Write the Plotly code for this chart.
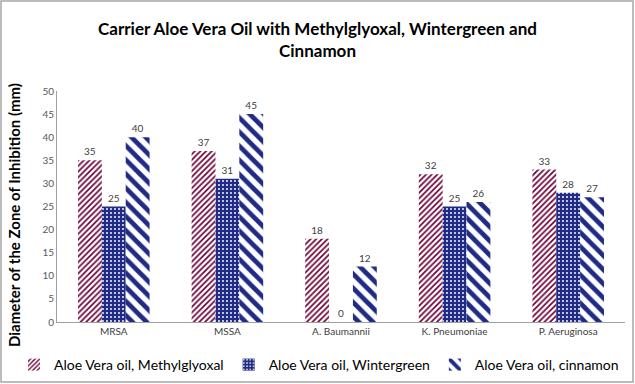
import plotly.graph_objects as go

categories = ["MRSA", "MSSA", "A. Baumannii", "K. Pneumoniae", "P. Aeruginosa"]
series_names = ["Aloe Vera oil, Methylglyoxal", "Aloe Vera oil, Wintergreen", "Aloe Vera oil, cinnamon"]
methylglyoxal = [35, 37, 18, 32, 33]
wintergreen = [25, 31, 0, 25, 28]
cinnamon = [40, 45, 12, 26, 27]
y_ticks = [0, 5, 10, 15, 20, 25, 30, 35, 40, 45, 50]

MAROON = "#6A0036"
NAVY = "#1F2B84"
FONT = "Lato, 'Liberation Sans', sans-serif"

W, H = 635, 384
ML, MR, MT, MB = 57, 10, 91, 62
PW, PH = W - ML - MR, H - MT - MB

fig = go.Figure()
fig.add_trace(go.Bar(
    name=series_names[0], x=categories, y=methylglyoxal,
    marker=dict(color="white", line=dict(width=0),
                pattern=dict(shape="/", fgcolor=MAROON, bgcolor="white", size=4,
                             solidity=0.42, fgopacity=1)),
    text=methylglyoxal, textposition="outside", cliponaxis=False,
))
fig.add_trace(go.Bar(
    name=series_names[1], x=categories, y=wintergreen,
    marker=dict(color=NAVY, line=dict(width=0),
                pattern=dict(shape=".", fgcolor="white", bgcolor=NAVY, size=4,
                             solidity=0.18, fgopacity=1)),
    text=wintergreen, textposition="outside", cliponaxis=False,
))
fig.add_trace(go.Bar(
    name=series_names[2], x=categories, y=cinnamon,
    marker=dict(color="white", line=dict(width=0),
                pattern=dict(shape="\\", fgcolor=NAVY, bgcolor="white", size=10,
                             solidity=0.48, fgopacity=1)),
    text=cinnamon, textposition="outside", cliponaxis=False,
))

fig.update_traces(textfont=dict(size=10, color="#404040", family=FONT))

fig.update_layout(
    width=W, height=H,
    margin=dict(l=ML, r=MR, t=MT, b=MB, autoexpand=False),
    paper_bgcolor="white", plot_bgcolor="white",
    barmode="group", bargap=0.37, bargroupgap=0.0,
    font=dict(family=FONT, color="#404040"),
    title=dict(
        text="<b>Carrier Aloe Vera Oil with Methylglyoxal, Wintergreen and<br>Cinnamon</b>",
        x=0.5, xanchor="center", xref="container", yref="container", y=1 - 35 / H, yanchor="top",
        font=dict(size=17, color="black", family=FONT),
    ),
    xaxis=dict(showline=True, linecolor="#A0A0A0", linewidth=1, ticks="",
               tickfont=dict(size=10, color="#404040"), showgrid=False),
    yaxis=dict(range=[0, 50], tickvals=y_ticks, showline=True, linecolor="#A0A0A0",
               linewidth=1, showgrid=False, ticks="", zeroline=False,
               tickfont=dict(size=10, color="#595959")),
    showlegend=True,
    legend=dict(orientation="h", xref="paper", x=(14 - ML) / PW, xanchor="left",
                y=-(365 - 322) / PH, yanchor="middle",
                font=dict(size=14, color="black", family=FONT), itemwidth=30,
                traceorder="normal"),
    annotations=[dict(
        text="<b>Diameter of the Zone of Inhibition (mm)</b>",
        xref="paper", yref="paper",
        x=(14 - ML) / PW, y=(322 - 215) / PH, xanchor="center", yanchor="middle",
        textangle=-90, showarrow=False,
        font=dict(size=15, color="black", family=FONT),
    )],
    shapes=[dict(
        type="rect", xref="paper", yref="paper",
        x0=(1 - ML) / PW, x1=(633 - ML) / PW,
        y0=(322 - 382) / PH, y1=(322 - 1) / PH,
        line=dict(color="#A6A6A6", width=1.5), fillcolor="rgba(0,0,0,0)", layer="below",
    )],
)

fig.write_html("out.html", config={"displayModeBar": False},
               post_script="document.body.style.margin='0';")
